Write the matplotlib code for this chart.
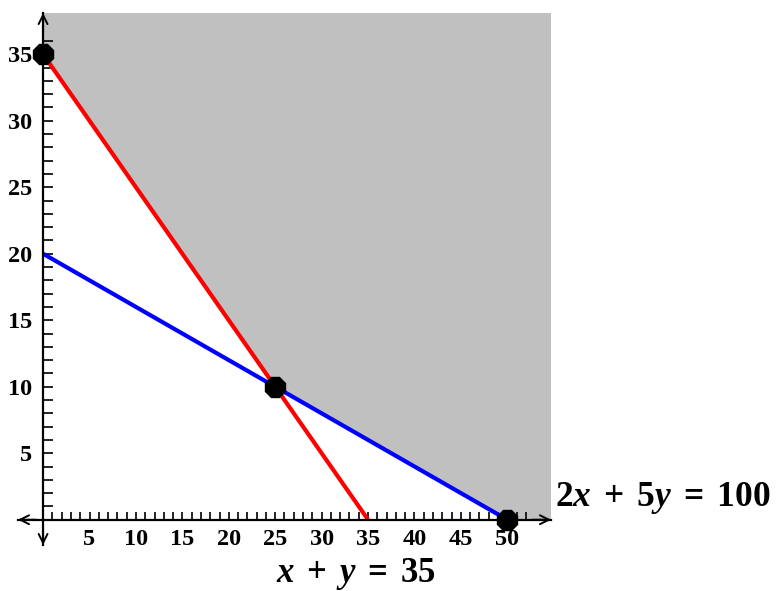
import matplotlib
matplotlib.use("Agg")
import matplotlib.pyplot as plt
import numpy as np
from matplotlib.ticker import FixedLocator

# Data
red_x = [0, 35]          # x + y = 35
red_y = [35, 0]
blue_x = [0, 50]         # 2x + 5y = 100
blue_y = [20, 0]
corner_x = [0, 25, 50]   # vertices of the feasible region
corner_y = [35, 10, 0]
xticks_major = [5, 10, 15, 20, 25, 30, 35, 40, 45, 50]
yticks_major = [5, 10, 15, 20, 25, 30, 35]
xticks_minor = list(range(1, 53))
yticks_minor = list(range(1, 37))
label_red = r"$x\;+\;y\;=\;35$"
label_blue = r"$2x\;+\;5y\;=\;100$"

plt.rcParams['mathtext.fontset'] = 'custom'
plt.rcParams['mathtext.rm'] = 'Liberation Serif:bold'
plt.rcParams['mathtext.it'] = 'Liberation Serif:bold:italic'
plt.rcParams['mathtext.bf'] = 'Liberation Serif:bold'

W, H = 777, 591
fig = plt.figure(figsize=(W / 100, H / 100), dpi=100)
left, right, top, bottom = 18, 551, 13, 545
ax = fig.add_axes([left / W, 1 - bottom / H, (right - left) / W, (bottom - top) / H])
xmin, xmax = -2.7, 54.7
ymin, ymax = -1.9, 38.1
ax.set_xlim(xmin, xmax)
ax.set_ylim(ymin, ymax)
ax.patch.set_alpha(0)

# Shaded feasible region
poly_x = [0] + corner_x + [xmax, xmax, 0]
poly_y = [ymax] + corner_y + [0, ymax, ymax]
ax.fill(poly_x, poly_y, color='#c0c0c0', lw=0, zorder=0)

# Lines
ax.plot(red_x, red_y, color='#ff0000', lw=3, zorder=3, solid_capstyle='butt')
ax.plot(blue_x, blue_y, color='#0000ff', lw=3, zorder=3, solid_capstyle='butt')
ax.plot(corner_x, corner_y, linestyle='none', marker='8', markersize=15,
        color='black', zorder=5, clip_on=False)

# Spines through origin
for s in ['top', 'right']:
    ax.spines[s].set_visible(False)
for s in ['left', 'bottom']:
    ax.spines[s].set_position(('data', 0))
    ax.spines[s].set_linewidth(1.6)
    ax.spines[s].set_zorder(4)

ax.xaxis.set_major_locator(FixedLocator(xticks_major))
ax.xaxis.set_minor_locator(FixedLocator(xticks_minor))
ax.yaxis.set_major_locator(FixedLocator(yticks_major))
ax.yaxis.set_minor_locator(FixedLocator(yticks_minor))
ax.tick_params(axis='x', which='both', direction='in', length=6, width=1.2)
ax.tick_params(axis='y', which='both', direction='in', length=7, width=1.2)
ax.tick_params(axis='x', which='major', pad=7)
ax.tick_params(axis='y', which='major', pad=8)
for lab in ax.get_xticklabels() + ax.get_yticklabels():
    lab.set_fontfamily('Liberation Serif')
    lab.set_fontweight('bold')
    lab.set_fontsize(17.5)

# Arrowheads
ap = dict(arrowstyle='->', lw=1.4, color='black', mutation_scale=16,
          shrinkA=0, shrinkB=0)
ax.annotate('', xy=(xmax, 0), xytext=(xmax - 2, 0), arrowprops=ap, annotation_clip=False)
ax.annotate('', xy=(xmin, 0), xytext=(xmin + 2, 0), arrowprops=ap, annotation_clip=False)
ax.annotate('', xy=(0, ymax), xytext=(0, ymax - 1.5), arrowprops=ap, annotation_clip=False)
ax.annotate('', xy=(0, ymin), xytext=(0, ymin + 1.5), arrowprops=ap, annotation_clip=False)

# Equation labels
fig.text(555 / W, 1 - 506 / H, label_blue, fontsize=25.5, ha='left', va='baseline')
fig.text(356 / W, 1 - 582 / H, label_red, fontsize=25, ha='center', va='baseline')

fig.savefig('out.png', dpi=100)
